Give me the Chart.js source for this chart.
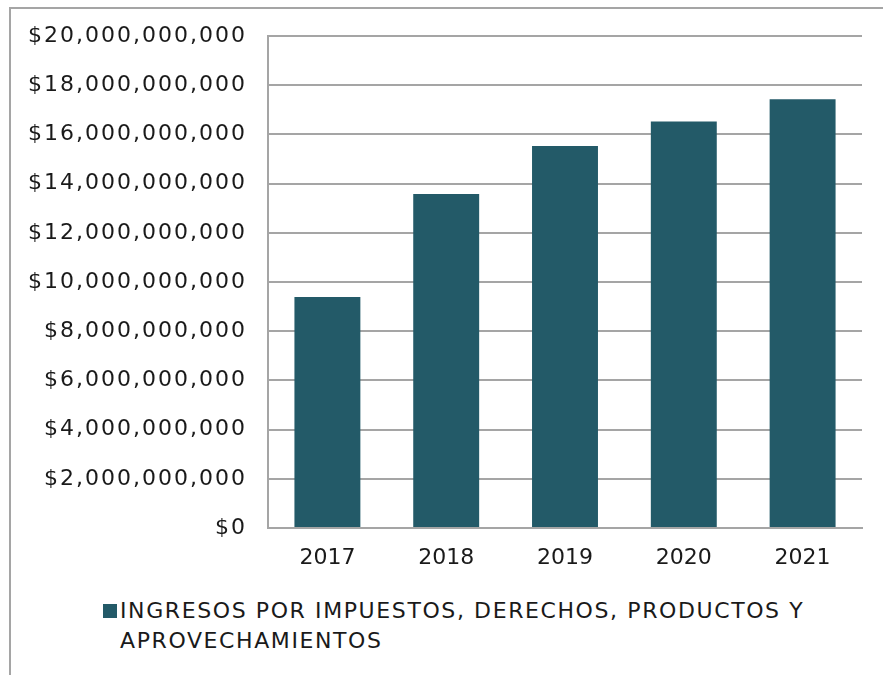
<!DOCTYPE html>
<html>
<head>
<meta charset="utf-8">
<script src="https://cdn.jsdelivr.net/npm/chart.js@4.4.1/dist/chart.umd.min.js"></script>
<style>
  html, body { margin: 0; padding: 0; background: #fff; overflow: hidden; }
  #frame { position: absolute; left: 9px; top: 7px; width: 1000px; height: 800px; border: 2px solid #a5a5a5; }
  #wrap { position: absolute; left: 0; top: 0; width: 883px; height: 580px; }
  #legend { position: absolute; left: 103px; top: 596px; width: 760px; display: flex; align-items: flex-start;
            font-family: "DejaVu Sans", sans-serif; font-size: 22px; line-height: 30px; color: #1a1a1a; letter-spacing: 1.6px; }
  #legend .box { flex: none; width: 14px; height: 14px; margin: 8px 3px 0 0; }
  #legend .txt { width: 720px; }
</style>
</head>
<body>
<div id="frame"></div>
<div id="wrap"><canvas id="myBarChart" width="883" height="580"></canvas></div>
<div id="legend"></div>
<script>
var years = ['2017', '2018', '2019', '2020', '2021'];
var ingresos = [9390000000, 13580000000, 15530000000, 16520000000, 17430000000];
var seriesName = 'INGRESOS POR IMPUESTOS, DERECHOS, PRODUCTOS Y APROVECHAMIENTOS';

var htmlLegend = {
  id: 'htmlLegend',
  afterUpdate: function(chart) {
    var box = document.getElementById('legend');
    box.innerHTML = '';
    chart.data.datasets.forEach(function(ds) {
      var sw = document.createElement('span');
      sw.className = 'box';
      sw.style.background = ds.backgroundColor;
      var txt = document.createElement('span');
      txt.className = 'txt';
      txt.textContent = ds.label;
      box.appendChild(sw);
      box.appendChild(txt);
    });
  }
};

// the original font is wider, so space out the y tick labels a little
var spacedY = {
  id: 'spacedY',
  beforeDraw: function(chart) {
    var y = chart.scales.y;
    if (!y || y._spaced) return;
    var orig = y.drawLabels;
    y.drawLabels = function(area) {
      this.ctx.save();
      this.ctx.letterSpacing = '2px';
      orig.call(this, area);
      this.ctx.restore();
    };
    y._spaced = true;
  }
};

document.addEventListener('DOMContentLoaded', function() {
  var ctx = document.getElementById('myBarChart').getContext('2d');
  var myBarChart = new Chart(ctx, {
    type: 'bar',
    data: {
      labels: years,
      datasets: [{
        label: seriesName,
        data: ingresos,
        backgroundColor: '#235a68',
        categoryPercentage: 1,
        barPercentage: 0.555
      }]
    },
    options: {
      responsive: false,
      animation: false,
      layout: { padding: { top: 36, right: 21, left: 0, bottom: 0 } },
      plugins: {
        legend: { display: false },
        tooltip: { enabled: false }
      },
      scales: {
        x: {
          grid: { display: false, drawTicks: false },
          border: { color: '#a5a5a5', width: 2 },
          ticks: { color: '#1a1a1a', padding: 17, font: { family: 'DejaVu Sans', size: 22 } },
          afterFit: function(scale) { scale.height = 52; }
        },
        y: {
          min: 0,
          max: 20000000000,
          grid: { color: '#a5a5a5', lineWidth: 2, drawTicks: false },
          border: { color: '#a5a5a5', width: 2 },
          ticks: {
            stepSize: 2000000000,
            color: '#1a1a1a',
            padding: 21,
            font: { family: 'DejaVu Sans', size: 22 },
            callback: function(v) { return '$' + v.toLocaleString('en-US'); }
          },
          afterFit: function(scale) { scale.width = 268; }
        }
      }
    },
    plugins: [htmlLegend, spacedY]
  });
});
</script>
</body>
</html>
